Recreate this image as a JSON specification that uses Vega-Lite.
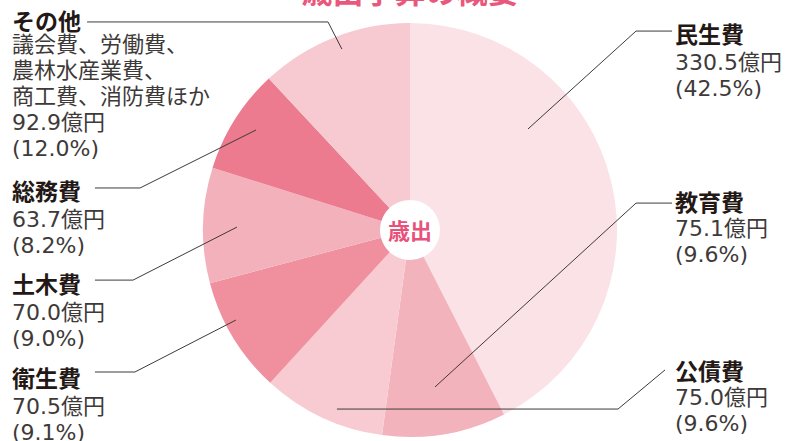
{
  "$schema": "https://vega.github.io/schema/vega-lite/v6.json",
  "width": 800,
  "height": 422,
  "autosize": "none",
  "padding": {"left": 10, "top": 19, "right": 0, "bottom": 0},
  "background": "white",
  "config": {"view": {"stroke": null}},
  "datasets": {
    "budget": [
      {"category": "民生費", "value": 330.5, "pct": 42.5, "order": 1},
      {"category": "教育費", "value": 75.1, "pct": 9.6, "order": 2},
      {"category": "公債費", "value": 75.0, "pct": 9.6, "order": 3},
      {"category": "衛生費", "value": 70.5, "pct": 9.1, "order": 4},
      {"category": "土木費", "value": 70.0, "pct": 9.0, "order": 5},
      {"category": "総務費", "value": 63.7, "pct": 8.2, "order": 6},
      {"category": "その他", "value": 92.9, "pct": 12.0, "order": 7}
    ],
    "labels": [
      {"category": "民生費", "lx": 1.28, "hy": 0.937, "by": 0.855, "body": "330.5億円\n(42.5%)"},
      {"category": "教育費", "lx": 1.28, "hy": 0.126, "by": 0.053, "body": "75.1億円\n(9.6%)"},
      {"category": "公債費", "lx": 1.28, "hy": -0.691, "by": -0.763, "body": "75.0億円\n(9.6%)"},
      {"category": "その他", "lx": -1.923, "hy": 1.0, "by": 0.942, "body": "議会費、労働費、\n農林水産業費、\n商工費、消防費ほか\n92.9億円\n(12.0%)"},
      {"category": "総務費", "lx": -1.923, "hy": 0.179, "by": 0.097, "body": "63.7億円\n(8.2%)"},
      {"category": "土木費", "lx": -1.923, "hy": -0.271, "by": -0.353, "body": "70.0億円\n(9.0%)"},
      {"category": "衛生費", "lx": -1.923, "hy": -0.725, "by": -0.807, "body": "70.5億円\n(9.1%)"}
    ],
    "leaders": [
      {"category": "民生費", "i": 0, "x": 0.57, "y": 0.488},
      {"category": "民生費", "i": 1, "x": 1.092, "y": 0.961},
      {"category": "民生費", "i": 2, "x": 1.266, "y": 0.961},
      {"category": "教育費", "i": 0, "x": 0.121, "y": -0.758},
      {"category": "教育費", "i": 1, "x": 1.092, "y": 0.13},
      {"category": "教育費", "i": 2, "x": 1.266, "y": 0.13},
      {"category": "公債費", "i": 0, "x": -0.353, "y": -0.865},
      {"category": "公債費", "i": 1, "x": 1.005, "y": -0.865},
      {"category": "公債費", "i": 2, "x": 1.232, "y": -0.676},
      {"category": "衛生費", "i": 0, "x": -0.841, "y": -0.435},
      {"category": "衛生費", "i": 1, "x": -1.329, "y": -0.686},
      {"category": "衛生費", "i": 2, "x": -1.522, "y": -0.686},
      {"category": "土木費", "i": 0, "x": -0.836, "y": 0.014},
      {"category": "土木費", "i": 1, "x": -1.338, "y": -0.242},
      {"category": "土木費", "i": 2, "x": -1.522, "y": -0.242},
      {"category": "総務費", "i": 0, "x": -0.744, "y": 0.483},
      {"category": "総務費", "i": 1, "x": -1.304, "y": 0.203},
      {"category": "総務費", "i": 2, "x": -1.522, "y": 0.203},
      {"category": "その他", "i": 0, "x": -0.329, "y": 0.874},
      {"category": "その他", "i": 1, "x": -0.396, "y": 1.005},
      {"category": "その他", "i": 2, "x": -1.56, "y": 1.005}
    ],
    "center": [{"text": "歳出", "x": 0, "y": 0}],
    "title": [{"text": "歳出予算の概要", "x": 0, "y": 1.095}]
  },
  "layer": [
    {
      "data": {"name": "budget"},
      "mark": {"type": "arc", "innerRadius": 30, "outerRadius": 207, "strokeWidth": 0},
      "encoding": {
        "theta": {"field": "value", "type": "quantitative", "stack": true},
        "order": {"field": "order", "type": "quantitative"},
        "color": {
          "field": "category",
          "type": "nominal",
          "legend": null,
          "scale": {
            "domain": ["民生費", "教育費", "公債費", "衛生費", "土木費", "総務費", "その他"],
            "range": ["#fae2e6", "#f3b3bd", "#f8cbd2", "#f0909e", "#f3b1bb", "#ec7b90", "#f7c9d0"]
          }
        }
      }
    },
    {
      "data": {"name": "leaders"},
      "mark": {"type": "line", "stroke": "#3e3a39", "strokeWidth": 1},
      "encoding": {
        "x": {"field": "x", "type": "quantitative", "axis": null, "scale": {"domain": [-1.9324, 1.9324], "nice": false, "zero": false}},
        "y": {"field": "y", "type": "quantitative", "axis": null, "scale": {"domain": [-1.0193, 1.0193], "nice": false, "zero": false}},
        "detail": {"field": "category", "type": "nominal"},
        "order": {"field": "i", "type": "quantitative"}
      }
    },
    {
      "data": {"name": "labels"},
      "mark": {"type": "text", "align": "left", "baseline": "middle", "font": "Noto Sans CJK JP", "fontWeight": "bold", "fontSize": 23, "color": "#231815"},
      "encoding": {
        "x": {"field": "lx", "type": "quantitative"},
        "y": {"field": "hy", "type": "quantitative"},
        "text": {"field": "category", "type": "nominal"}
      }
    },
    {
      "data": {"name": "labels"},
      "mark": {"type": "text", "align": "left", "baseline": "top", "font": "DejaVu Sans, Noto Sans CJK JP", "fontSize": 22, "lineHeight": 26, "lineBreak": "\n", "color": "#3e3a39"},
      "encoding": {
        "x": {"field": "lx", "type": "quantitative"},
        "y": {"field": "by", "type": "quantitative"},
        "text": {"field": "body", "type": "nominal"}
      }
    },
    {
      "data": {"name": "center"},
      "mark": {"type": "text", "align": "center", "baseline": "middle", "dy": 2, "font": "Noto Sans CJK JP", "fontWeight": "bold", "fontSize": 22, "color": "#e8517a"},
      "encoding": {
        "x": {"field": "x", "type": "quantitative"},
        "y": {"field": "y", "type": "quantitative"},
        "text": {"field": "text", "type": "nominal"}
      }
    },
    {
      "data": {"name": "title"},
      "mark": {"type": "text", "align": "center", "baseline": "alphabetic", "font": "Noto Sans CJK JP", "fontWeight": "bold", "fontSize": 31, "color": "#e9587c"},
      "encoding": {
        "x": {"field": "x", "type": "quantitative"},
        "y": {"field": "y", "type": "quantitative"},
        "text": {"field": "text", "type": "nominal"}
      }
    }
  ]
}
